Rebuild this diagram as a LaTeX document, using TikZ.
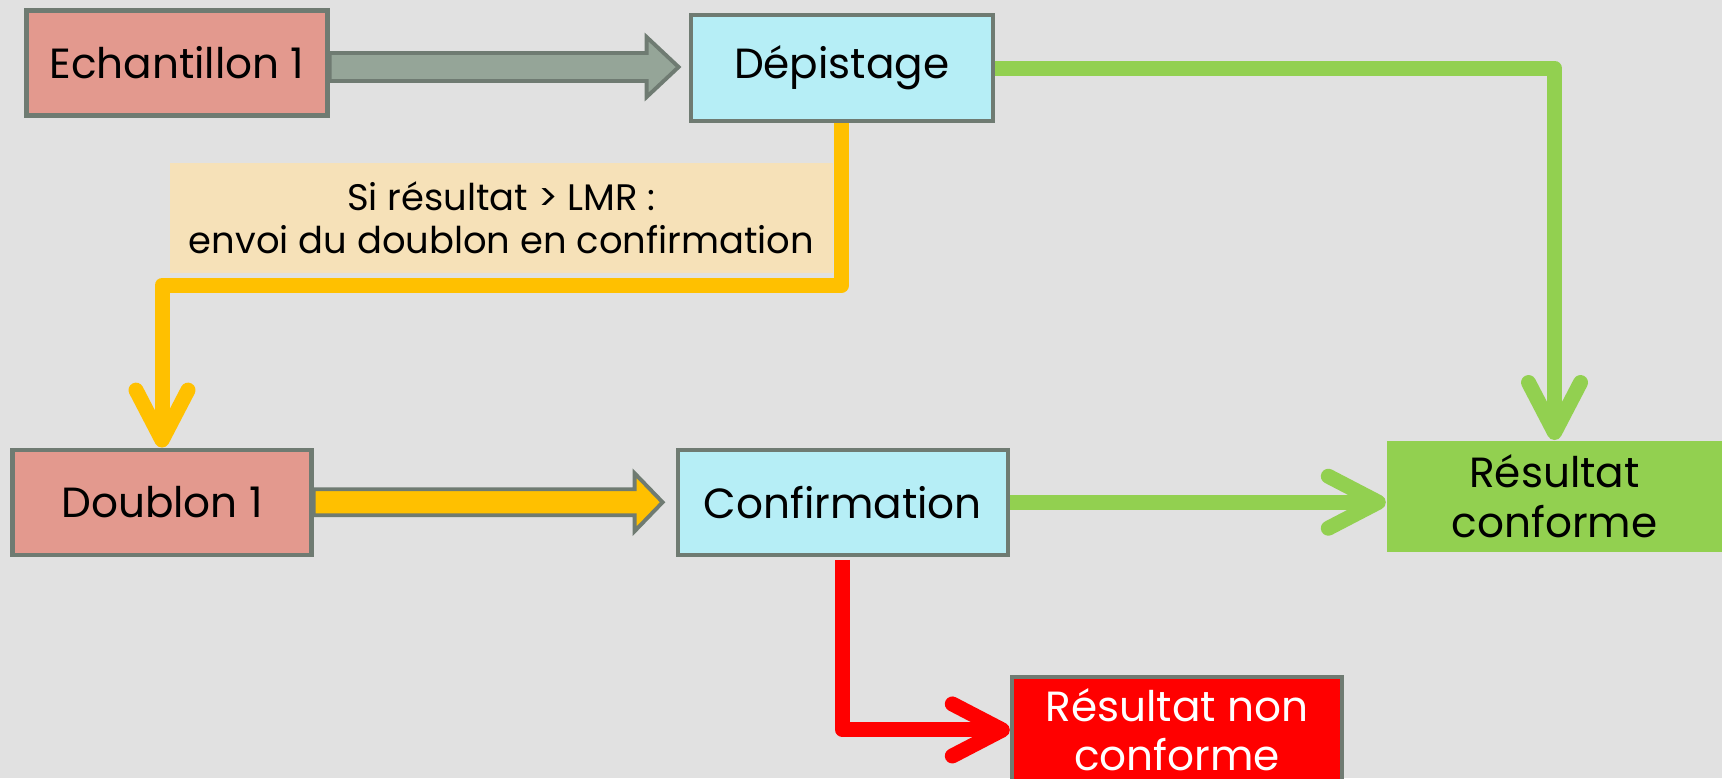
\documentclass[tikz,border=0pt]{standalone}
\usepackage{fontspec}
\setmainfont{Poppins}
\usepackage{tikz}
\definecolor{bggrey}{HTML}{E1E1E1}
\definecolor{edgegrey}{HTML}{6F7B72}
\definecolor{salmon}{HTML}{E3998E}
\definecolor{paleblue}{HTML}{B6EEF6}
\definecolor{beige}{HTML}{F6E1B8}
\definecolor{shaftgrey}{HTML}{95A598}
\definecolor{gold}{HTML}{FFC000}
\definecolor{leafgreen}{HTML}{92D050}
\definecolor{alarmred}{HTML}{FF0000}
\tikzstyle{box}=[rectangle,inner sep=0pt,align=center,
minimum width=3.02cm,minimum height=1.05cm,font=\fontsize{12}{14}\selectfont]
\tikzstyle{sample}=[box,draw=edgegrey,line width=1.2pt,fill=salmon]
\tikzstyle{test}=[box,draw=edgegrey,line width=1.2pt,fill=paleblue]
\tikzstyle{result}=[box,fill=leafgreen,minimum width=3.36cm,minimum height=1.11cm]
\tikzstyle{fail}=[box,draw=edgegrey,line width=1.2pt,fill=alarmred,text=white,
minimum width=3.30cm,minimum height=1.06cm]
\tikzstyle{note}=[rectangle,fill=beige,inner sep=0pt,align=center,
minimum width=6.63cm,minimum height=1.10cm,font=\fontsize{10.5}{12.3}\selectfont]
\tikzstyle{link}=[line width=0.15cm,line join=round,
-{Straight Barb[length=0.5cm,width=0.52cm,round]}]
\tikzstyle{blockarrow}=[draw=edgegrey,line width=1.1pt,line join=miter]
\usetikzlibrary{positioning,calc,arrows.meta}

\begin{document}
\begin{tikzpicture}
            \path[use as bounding box,fill=bggrey] (0,0) rectangle (17.22,-7.78);
            \clip (0,0) rectangle (17.22,-7.78);

            % SCREENING PART

            \node[sample,minimum width=3.01cm] at (1.77,-0.63) (ech) {Echantillon 1};
            \node[test,right =3.59cm of ech,yshift=-0.05cm,minimum height=1.06cm] (dep) {Dépistage};
            \node[note,below left=0.39cm and 0.08cm of dep.south] (cond) {Si résultat > LMR :\\envoi du doublon en confirmation};

            \draw[blockarrow,fill=shaftgrey] ($(ech.east)+(0,0.10)$) -- ++(3.17,0) -- ++(0,0.16) -- ++(0.32,-0.30)
                -- ++(-0.32,-0.30) -- ++(0,0.16) -- ++(-3.17,0) -- cycle;

            % DUPLICATE PART

            \node[sample,below =3.30cm of ech,xshift=-0.15cm,minimum width=2.99cm] (doub) {Doublon 1};
            \node[test,right =3.62cm of doub,minimum width=3.30cm] (conf) {Confirmation};

            \draw[blockarrow,fill=gold] ($(doub.east)+(0,0.13)$) -- ++(3.21,0) -- ++(0,0.16) -- ++(0.28,-0.29)
                -- ++(-0.28,-0.29) -- ++(0,0.16) -- ++(-3.21,0) -- cycle;

            % RESULT PART

            \node[result,right =3.76cm of conf,yshift=0.06cm] (ok) {Résultat\\conforme};
            \node[fail,below right=1.18cm and 0cm of conf.south east] (nok) {Résultat non\\conforme};

            % Connections

            \draw[link,draw=gold] (dep.south) -- ++(0,-1.62) -| (doub.north);
            \draw[link,draw=leafgreen] (dep.east) -| (ok.north);
            \draw[link,draw=leafgreen] (conf.east) -- (conf.east -| ok.west);
            \draw[link,draw=alarmred] ($(conf.south)+(0,-0.03)$) |- (nok.west);

\end{tikzpicture}
\end{document}
